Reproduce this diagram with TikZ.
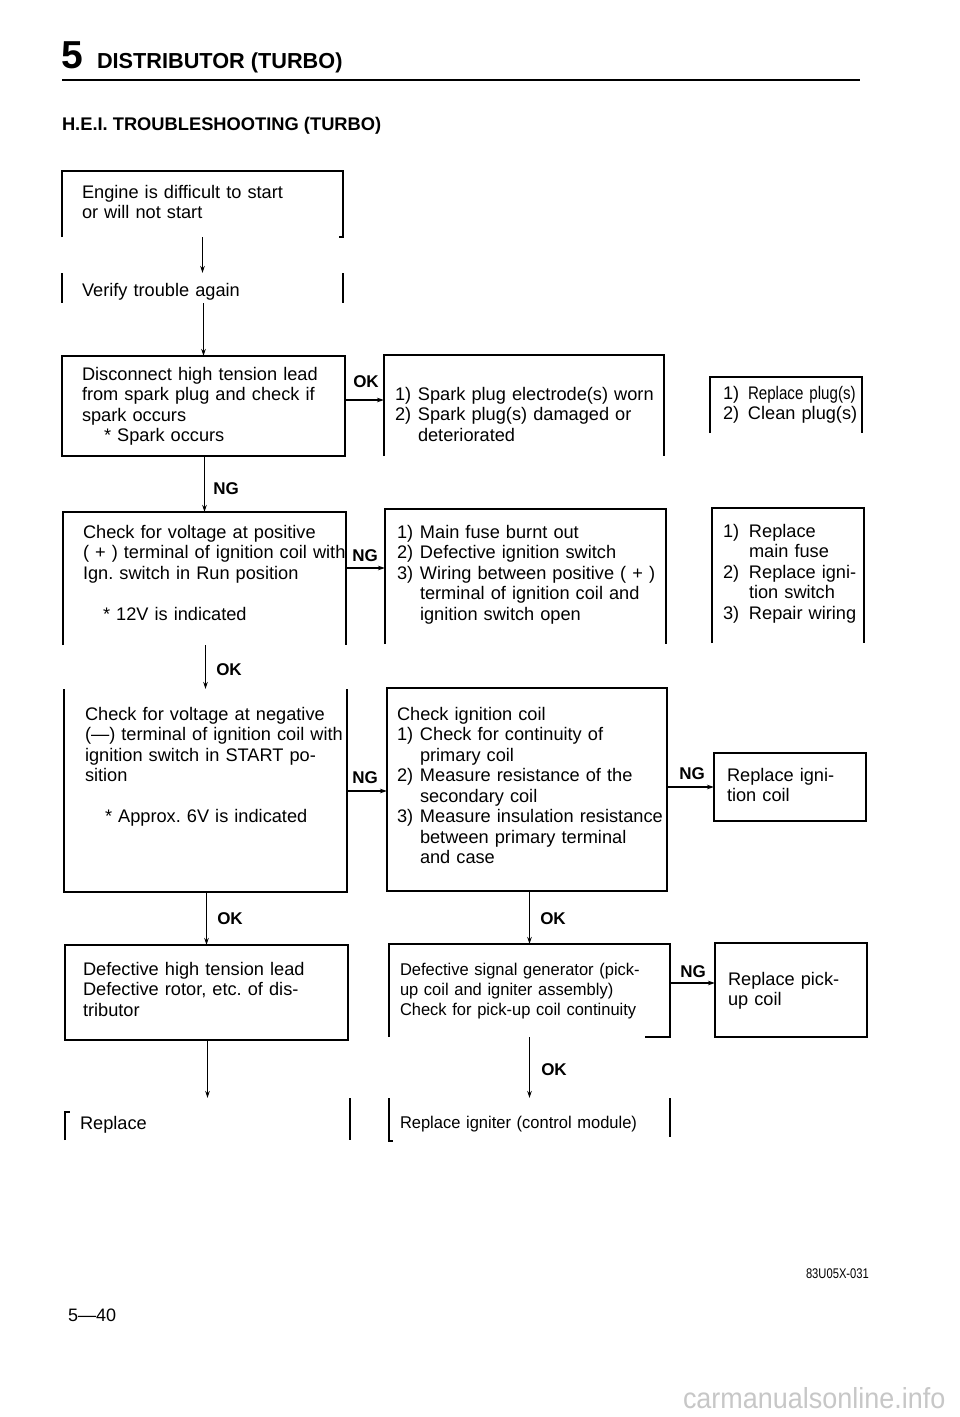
\documentclass[tikz,border=0pt]{standalone}
\usepackage{fontspec}
\setmainfont{Liberation Sans}
\newfontfamily\condA[FakeStretch=0.97]{Liberation Sans}
\newfontfamily\condB[FakeStretch=0.83]{Liberation Sans}
\newfontfamily\condC[FakeStretch=0.8]{Liberation Sans}
\newfontfamily\wmfont[FakeStretch=0.93]{Liberation Sans}
\usetikzlibrary{arrows.meta,fit}
\newcommand\itm[2][23pt]{\makebox[#1][l]{#2}}
\newcommand\cnt[1][23pt]{\hspace*{#1}}
\frenchspacing
\begin{document}
\begin{tikzpicture}[x=1pt,y=-1pt,
  bx/.style={inner sep=0pt,outer sep=0pt},
  ln/.style={line width=1.1pt},
  arr/.style={line width=1.1pt,-{Stealth[length=7pt,width=4.5pt]}},
  txt/.style={anchor=base west,inner sep=0pt,outer sep=0pt,align=left,text width=320pt,font=\fontsize{18.2}{20.5}\selectfont},
  lbl/.style={inner sep=0pt,font=\bfseries\fontsize{17}{17}\selectfont},
  hd/.style={anchor=base west,inner sep=0pt,outer sep=0pt}
]
\useasboundingbox[fill=white] (0,0) rectangle (960,1417);

% heading
\node[hd,font=\bfseries\fontsize{39}{39}\selectfont] (h5) at (61,68) {5};
\node[hd,font=\bfseries\fontsize{21.7}{22}\selectfont] (h1) at (97,68) {DISTRIBUTOR (TURBO)};
\draw[line width=2.6pt] (62,80) -- (860,80);
\node[hd,font=\bfseries\fontsize{18.3}{20}\selectfont] (h2) at (62,130) {H.E.I. TROUBLESHOOTING (TURBO)};

% boxes
\node[bx,fit={(62,171)(343,237)}] (b1) {};
\node[bx,fit={(62,273)(343,303)}] (b2) {};
\node[bx,fit={(62,356)(345,456)}] (b3) {};
\node[bx,fit={(384,355)(664,456)}] (b4) {};
\node[bx,fit={(710,377)(862,433)}] (b5) {};
\node[bx,fit={(63,512)(346,645)}] (b6) {};
\node[bx,fit={(385,509)(666,644)}] (b7) {};
\node[bx,fit={(712,508)(864,643)}] (b8) {};
\node[bx,fit={(64,689)(347,892)}] (b9) {};
\node[bx,fit={(387,688)(667,891)}] (b10) {};
\node[bx,fit={(714,753)(866,821)}] (b11) {};
\node[bx,fit={(65,945)(348,1040)}] (b12) {};
\node[bx,fit={(389,944)(670,1037)}] (b13) {};
\node[bx,fit={(65,1098)(350,1140)}] (b14) {};
\node[bx,fit={(715,943)(867,1037)}] (b15) {};
\node[bx,fit={(389,1098)(670,1141)}] (b16) {};

% visible sides of the boxes
\draw[ln] (b1.south west) -- (b1.north west) -- (b1.north east) -- (b1.south east) -- ++(-4,0);
\draw[ln] (b2.north west) -- (b2.south west);
\draw[ln] (b2.north east) -- (b2.south east);
\draw[ln] (b3.north west) rectangle (b3.south east);
\draw[ln] (b4.south west) -- (b4.north west) -- (b4.north east) -- (b4.south east);
\draw[ln] (b5.south west) -- (b5.north west) -- (b5.north east) -- (b5.south east);
\draw[ln] (b6.south west) -- (b6.north west) -- (b6.north east) -- (b6.south east);
\draw[ln] (b7.south west) -- (b7.north west) -- (b7.north east) -- (b7.south east);
\draw[ln] (b8.south west) -- (b8.north west) -- (b8.north east) -- (b8.south east);
\draw[ln] (b9.north west) -- (b9.south west) -- (b9.south east) -- (b9.north east);
\draw[ln] (b10.north west) rectangle (b10.south east);
\draw[ln] (b11.north west) rectangle (b11.south east);
\draw[ln] (b12.north west) rectangle (b12.south east);
\draw[ln] (b13.south west) -- (b13.north west) -- (b13.north east) -- (b13.south east) -- ++(-25,0);
\draw[ln] (b14.south west) -- ([yshift=-14pt]b14.north west) -- ++(5,0);
\draw[ln] (b14.north east) -- (b14.south east);
\draw[ln] (b15.north west) rectangle (b15.south east);
\draw[ln] (b16.north west) -- (b16.south west) -- ++(4,0);
\draw[ln] (b16.north east) -- ([yshift=4pt]b16.south east);

% texts
\node[txt] (t1) at (82,198) {Engine is difficult to start\\or will not start};
\node[txt] (t2) at (82,296) {Verify trouble again};
\node[txt] (t3) at (82,380) {Disconnect high tension lead\\from spark plug and check if\\spark occurs\\\cnt[22pt]* Spark occurs};
\node[txt] (t4) at (395,400) {\itm{1)}Spark plug electrode(s) worn\\\itm{2)}Spark plug(s) damaged or\\\cnt deteriorated};
\node[txt] (t5) at (723,399) {\itm[25pt]{1)}{\condB Replace plug(s)}\\\itm[25pt]{2)}Clean plug(s)};
\node[txt] (t6) at (83,538) {Check for voltage at positive\\( + ) terminal of ignition coil with\\Ign. switch in Run position\\[20.5pt]\cnt[20pt]* 12V is indicated};
\node[txt] (t7) at (397,538) {\itm{1)}Main fuse burnt out\\\itm{2)}Defective ignition switch\\\itm{3)}Wiring between positive ( + )\\\cnt terminal of ignition coil and\\\cnt ignition switch open};
\node[txt] (t8) at (723,537) {\itm[26pt]{1)}Replace\\\cnt[26pt]main fuse\\\itm[26pt]{2)}Replace igni-\\\cnt[26pt]tion switch\\\itm[26pt]{3)}Repair wiring};
\node[txt] (t9) at (85,720) {Check for voltage at negative\\(—) terminal of ignition coil with\\ignition switch in START po-\\sition\\[20.5pt]\cnt[20pt]* Approx. 6V is indicated};
\node[txt] (t10) at (397,720) {Check ignition coil\\\itm{1)}Check for continuity of\\\cnt primary coil\\\itm{2)}Measure resistance of the\\\cnt secondary coil\\\itm{3)}Measure insulation resistance\\\cnt between primary terminal\\\cnt and case};
\node[txt] (t11) at (727,781) {Replace igni-\\tion coil};
\node[txt] (t12) at (83,975) {Defective high tension lead\\Defective rotor, etc. of dis-\\tributor};
\node[txt,font={\condA\fontsize{17}{20}\selectfont}] (t13) at (400,975) {Defective signal generator (pick-\\up coil and igniter assembly)\\Check for pick-up coil continuity};
\node[txt] (t14) at (80,1129) {Replace};
\node[txt] (t15) at (728,985) {Replace pick-\\up coil};
\node[txt,font={\condA\fontsize{17}{20}\selectfont}] (t16) at (400,1128) {Replace igniter (control module)};

% connectors
\draw[arr] (b2.north |- b1.south) -- (b2.north);
\draw[arr] (b3.north |- b2.south) -- (b3.north);
\draw[arr] (b3.east |- 0,400) -- (b4.west |- 0,400);
\draw[arr] (b6.north |- b3.south) -- (b6.north);
\draw[arr] (b6.east |- 0,568) -- (b7.west |- 0,568);
\draw[arr] (b9.north |- b6.south) -- (b9.north);
\draw[arr] (b9.east |- 0,791) -- (b10.west |- 0,791);
\draw[arr] (b10.east |- 0,787) -- (b11.west |- 0,787);
\draw[arr] (b12.north |- b9.south) -- (b12.north);
\draw[arr] (b13.north |- b10.south) -- (b13.north);
\draw[arr] (b13.east |- 0,983) -- (b15.west |- 0,983);
\draw[arr] (b14.north |- b12.south) -- (b14.north);
\draw[arr] (b16.north |- b13.south) -- (b16.north);

% connector labels
\node[lbl] (l3) at (366,382) {OK};
\node[lbl] (l4) at (226,489) {NG};
\node[lbl] (l5) at (365,556) {NG};
\node[lbl] (l6) at (229,670) {OK};
\node[lbl] (l7) at (365,778) {NG};
\node[lbl] (l8) at (692,774) {NG};
\node[lbl] (l9) at (230,919) {OK};
\node[lbl] (l10) at (553,919) {OK};
\node[lbl] (l11) at (693,972) {NG};
\node[lbl] (l13) at (554,1070) {OK};

% footer
\node[hd,font={\condC\fontsize{14}{14}\selectfont}] (code) at (806,1278) {83U05X-031};
\node[hd,font=\fontsize{18}{18}\selectfont] (page) at (68,1321) {5—40};
\node[hd,font={\wmfont\fontsize{29}{29}\selectfont},text=black!22] (wm) at (683,1408) {carmanualsonline.info};
\end{tikzpicture}
\end{document}
